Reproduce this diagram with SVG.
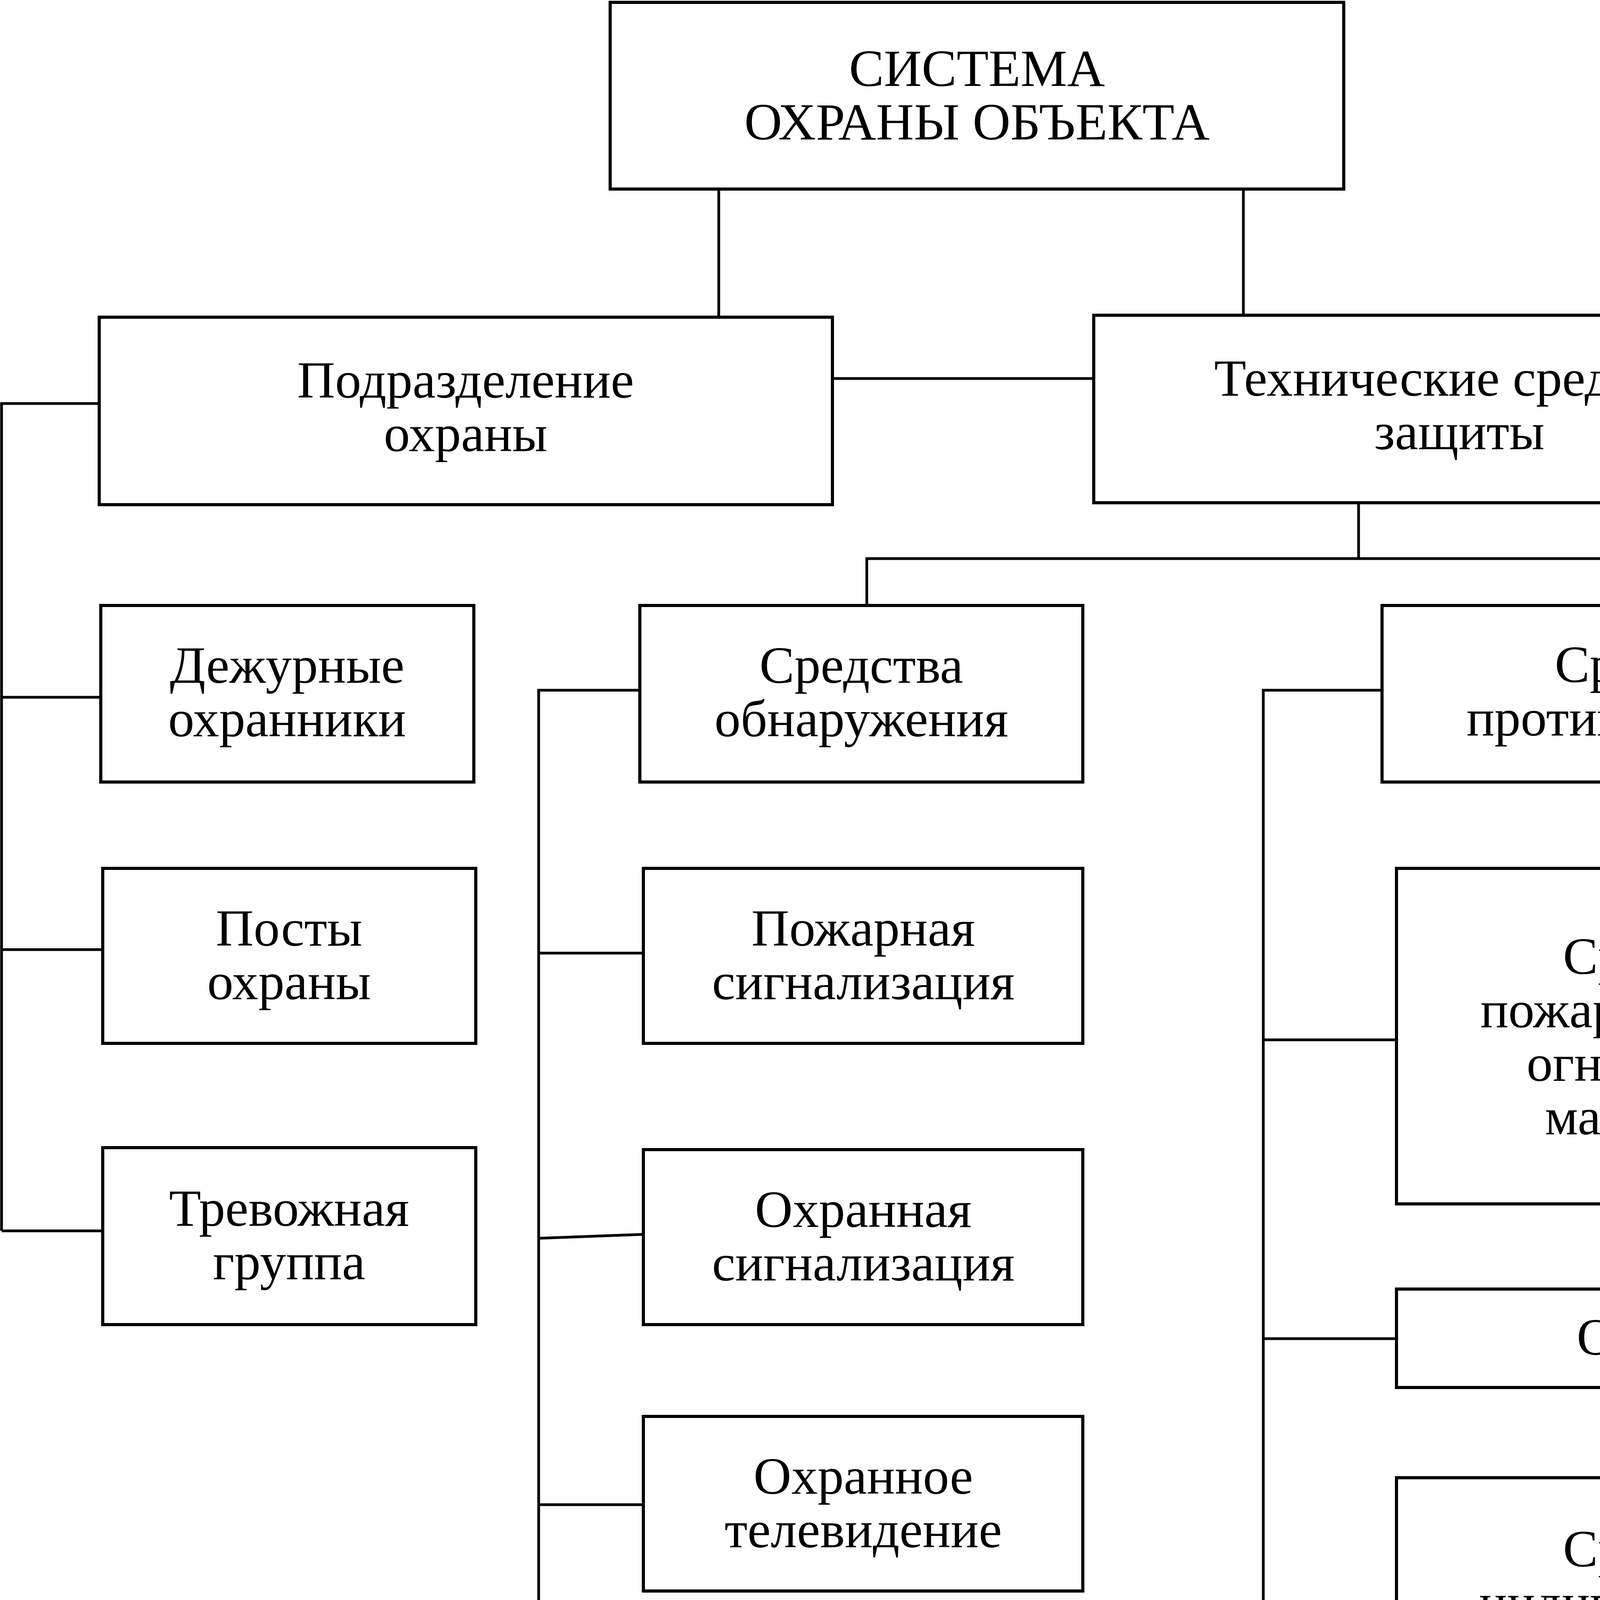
<svg xmlns="http://www.w3.org/2000/svg" width="5065" height="7235" viewBox="0 0 5065 7235">
<style>
.b{fill:#fff;stroke:#000;stroke-width:8}
.c{fill:none;stroke:#000;stroke-width:7}
text{font-family:"Liberation Serif","Times New Roman",serif;font-size:134px;fill:#000}
.m{text-anchor:middle}
</style>
<rect width="5065" height="7235" fill="#fff"/>
<g id="connectors">
<path class="c" d="M1840,484V812M3183,484V807"/>
<path class="c" d="M2131,969H2800"/>
<path class="c" d="M254,1033H4V3151M4,1785H258M4,2431H263M4,3151H263"/>
<path class="c" d="M3478,1287V1430M2219,1550V1430H4249V1550"/>
<path class="c" d="M1638,1767H1379V6827M1379,2440H1647M1379,3170L1647,3160M1379,3852H1647M1379,4553H1647M1379,5148H1642M1379,5849H1642M1379,6827H1638"/>
<path class="c" d="M3538,1767H3234V5097M3234,2662H3575M3234,3427H3575M3234,4110H3575M3234,4751H3575"/>
</g>
<g id="n-root"><rect class="b" x="1562" y="6" width="1878" height="478"/>
<text class="m" x="2501" y="220">СИСТЕМА</text><text class="m" x="2501" y="357">ОХРАНЫ ОБЪЕКТА</text></g>
<g id="n-podr"><rect class="b" x="254" y="812" width="1877" height="480"/>
<text class="m" x="1192" y="1018">Подразделение</text><text class="m" x="1192" y="1155">охраны</text></g>
<g id="n-tech"><rect class="b" x="2800" y="807" width="1873" height="480"/>
<text class="m" x="3736" y="1013">Технические средства</text><text class="m" x="3736" y="1150">защиты</text></g>
<g id="n-dezh"><rect class="b" x="258" y="1550" width="955" height="452"/>
<text class="m" x="735" y="1748">Дежурные</text><text class="m" x="735" y="1885">охранники</text></g>
<g id="n-posty"><rect class="b" x="263" y="2223" width="955" height="448"/>
<text class="m" x="740" y="2421">Посты</text><text class="m" x="740" y="2558">охраны</text></g>
<g id="n-trev"><rect class="b" x="263" y="2938" width="955" height="453"/>
<text class="m" x="740" y="3138">Тревожная</text><text class="m" x="740" y="3275">группа</text></g>
<g id="n-obn"><rect class="b" x="1638" y="1550" width="1134" height="452"/>
<text class="m" x="2205" y="1748">Средства</text><text class="m" x="2205" y="1885">обнаружения</text></g>
<g id="n-pozh"><rect class="b" x="1647" y="2223" width="1125" height="448"/>
<text class="m" x="2210" y="2421">Пожарная</text><text class="m" x="2210" y="2558">сигнализация</text></g>
<g id="n-ohrs"><rect class="b" x="1647" y="2943" width="1125" height="448"/>
<text class="m" x="2210" y="3141">Охранная</text><text class="m" x="2210" y="3278">сигнализация</text></g>
<g id="n-tv"><rect class="b" x="1647" y="3626" width="1125" height="447"/>
<text class="m" x="2210" y="3824">Охранное</text><text class="m" x="2210" y="3961">телевидение</text></g>
<g id="n-osv"><rect class="b" x="1647" y="4322" width="1125" height="448"/>
<text class="m" x="2210" y="4520">Охранное</text><text class="m" x="2210" y="4657">освещение</text></g>
<g id="n-radio"><rect class="b" x="1642" y="5028" width="1126" height="240"/>
<text class="m" x="2205" y="5190">Радиосвязь</text></g>
<g id="n-sel"><rect class="b" x="1642" y="5526" width="1126" height="632"/>
<text class="m" x="2205" y="5755">Селекторная</text><text class="m" x="2205" y="5892">телефонная</text><text class="m" x="2205" y="6029">связь</text></g>
<g id="n-pryam"><rect class="b" x="1638" y="6412" width="1125" height="812"/>
<text class="m" x="2200" y="6658">Прямая</text><text class="m" x="2200" y="6795">телефонная</text><text class="m" x="2200" y="6932">связь с</text><text class="m" x="2200" y="7069">милицией</text></g>
<g id="n-prot"><rect class="b" x="3538" y="1550" width="1407" height="452"/>
<text class="m" x="4241" y="1746">Средства</text><text class="m" x="4241" y="1883">противодействия</text></g>
<g id="n-pozhtush"><rect class="b" x="3575" y="2223" width="1375" height="859"/>
<text class="m" x="4262" y="2493">Средства</text><text class="m" x="4262" y="2630">пожаротушения,</text><text class="m" x="4262" y="2767">огнестойкие</text><text class="m" x="4262" y="2904">материалы</text></g>
<g id="n-oruzh"><rect class="b" x="3575" y="3300" width="1375" height="252"/>
<text class="m" x="4262" y="3468">Оружие</text></g>
<g id="n-ind"><rect class="b" x="3575" y="3783" width="1375" height="628"/>
<text class="m" x="4262" y="4010">Средства</text><text class="m" x="4262" y="4147">индивидуальной</text><text class="m" x="4262" y="4284">защиты</text></g>
<g id="n-avto"><rect class="b" x="3575" y="4622" width="1375" height="265"/>
<text class="m" x="4262" y="4796">Автотранспорт</text></g>
<g id="n-inzh"><rect class="b" x="3095" y="5097" width="1965" height="2090"/>
<text x="3388" y="5559">Средства</text>
<text x="3388" y="5696">инженерной защиты:</text>
<text x="3388" y="5833">зоны безопасности,</text>
<text x="3388" y="5970">планировка помещений,</text>
<text x="3388" y="6107">конструктивные</text>
<text x="3388" y="6244">элементы здания,</text>
<text x="3388" y="6381">барьеры,</text>
<text x="3388" y="6518">входные тамбуры,</text>
<text x="3388" y="6655">двери, решетки,</text>
<text x="3388" y="6792">ставни, замки и др.</text></g>
</svg>
